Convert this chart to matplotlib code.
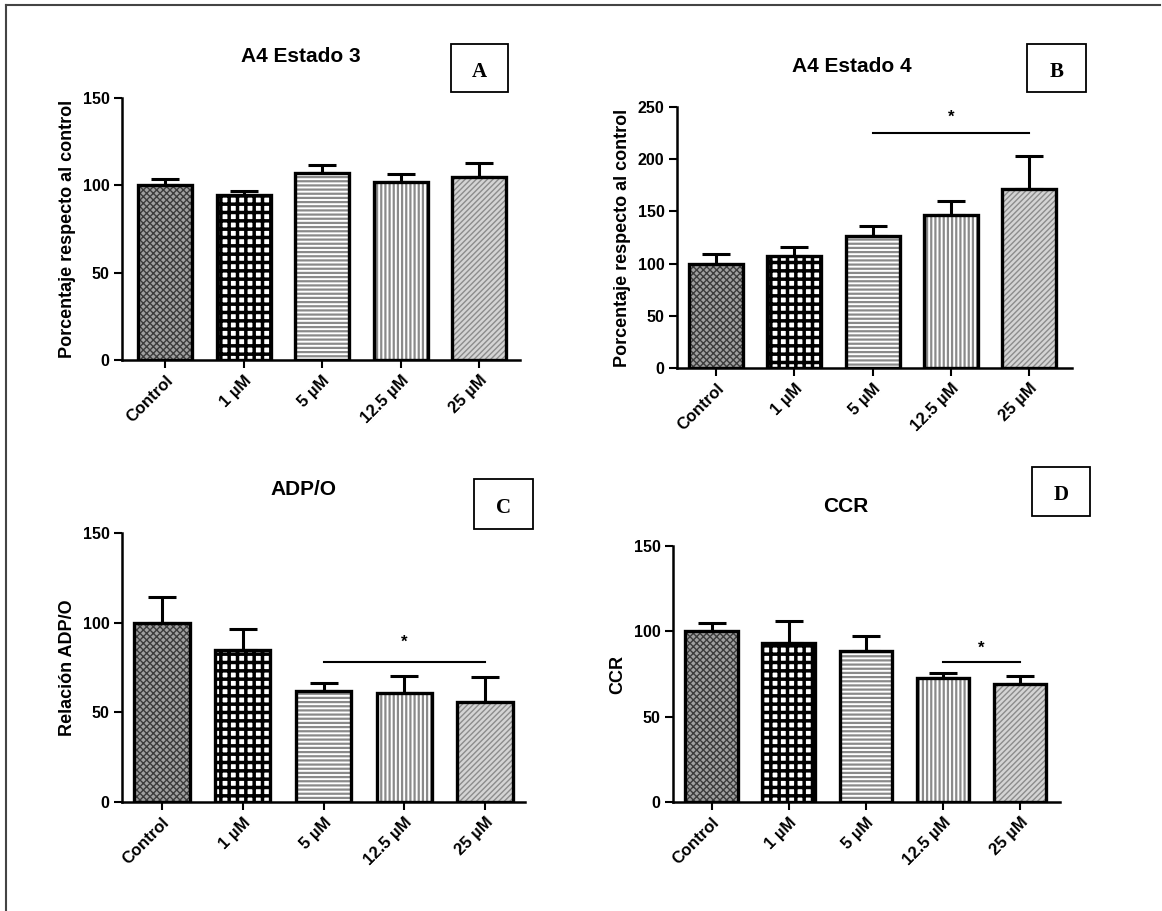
import matplotlib.pyplot as plt
from matplotlib.patches import Rectangle
from matplotlib.lines import Line2D

plt.rcParams['font.family'] = ['Liberation Sans', 'DejaVu Sans']
plt.rcParams['font.weight'] = 'bold'

# datos
categorias = ['Control', '1 µM', '5 µM', '12.5 µM', '25 µM']

estado3 = [100, 94.5, 107, 102, 105]
estado3_err = [3.5, 2.5, 4.5, 4.3, 7.5]

estado4 = [100, 107, 126, 147, 171]
estado4_err = [9.5, 8.6, 9.6, 13.4, 32.5]

adp_o = [100, 84.7, 62, 61, 56]
adp_o_err = [14.2, 11.8, 4.4, 9.2, 13.6]

ccr = [100, 93, 88.5, 72.7, 69.3]
ccr_err = [5, 12.9, 8.8, 3.1, 4.5]

# estilo de relleno de cada barra: (fondo, trama, color de trama, grosor)
tramas = [
    ('#a0a0a0', 'xxxxx', '#3c3c3c', 1.0),
    ('white', '++', 'black', 2.5),
    ('white', '----', '#8a8a8a', 1.6),
    ('white', '||||', '#8a8a8a', 1.6),
    ('#d4d4d4', '//////', '#8c8c8c', 1.0),
]

W, H = 1162, 911
fig = plt.figure(figsize=(W / 100, H / 100), dpi=100)


def caja(x0, x1, y_bot, y_top):
    # convierte pixeles a fraccion de figura
    return [x0 / W, 1 - y_bot / H, (x1 - x0) / W, (y_bot - y_top) / H]


def panel(pos, valores, errores, ylim, yticks, ylabel, xlim, ancho):
    ax = fig.add_axes(pos)
    x = list(range(len(categorias)))
    for i in x:
        fondo, trama, color, lw = tramas[i]
        with plt.rc_context({'hatch.linewidth': lw}):
            ax.bar(i, valores[i], width=ancho, color=fondo, hatch=trama,
                   edgecolor=color, linewidth=0, zorder=2)
    ax.bar(x, valores, width=ancho, fill=False, edgecolor='black',
           linewidth=2.4, zorder=3)
    ax.errorbar(x, valores, yerr=[[0] * len(x), errores], fmt='none',
                ecolor='black', elinewidth=2.2, capsize=10, capthick=2.2,
                zorder=1)
    ax.set_xlim(*xlim)
    ax.set_ylim(*ylim)
    ax.set_yticks(yticks)
    ax.set_xticks(x)
    ax.set_xticklabels(categorias, rotation=45, ha='right',
                       rotation_mode='anchor', fontsize=12, fontweight='bold')
    for lab in ax.get_yticklabels():
        lab.set_fontsize(11.5)
        lab.set_fontweight('bold')
    ax.set_ylabel(ylabel, fontsize=13, fontweight='bold', labelpad=5)
    for s in ['top', 'right']:
        ax.spines[s].set_visible(False)
    for s in ['left', 'bottom']:
        ax.spines[s].set_linewidth(1.8)
    ax.tick_params(width=1.5, length=6, pad=3)
    return ax


def significancia(ax, x0, x1, y, y_star):
    ax.plot([x0, x1], [y, y], color='black', linewidth=1.5, zorder=4)
    ax.text((x0 + x1) / 2, y_star, '*', ha='center', va='center',
            fontsize=12, fontweight='bold')


axA = panel(caja(122, 520, 360, 98), estado3, estado3_err, (0, 150),
            [0, 50, 100, 150], 'Porcentaje respecto al control',
            (-0.55, 4.52), 0.69)
axB = panel(caja(677, 1072, 368, 107), estado4, estado4_err, (0, 250),
            [0, 50, 100, 150, 200, 250], 'Porcentaje respecto al control',
            (-0.5, 4.55), 0.69)
axC = panel(caja(122, 525, 802, 533), adp_o, adp_o_err, (0, 150),
            [0, 50, 100, 150], 'Relación ADP/O', (-0.49, 4.49), 0.69)
axD = panel(caja(673, 1060, 802, 546), ccr, ccr_err, (0, 150),
            [0, 50, 100, 150], 'CCR', (-0.5, 4.52), 0.68)

significancia(axB, 2, 4, 225, 240)
significancia(axC, 2, 4, 78, 89)
significancia(axD, 3, 4, 82, 90)

# titulos
titulos = [('A4 Estado 3', 301, 57), ('A4 Estado 4', 852, 67),
           ('ADP/O', 303, 489), ('CCR', 846, 507)]
for t, px, py in titulos:
    fig.text(px / W, 1 - py / H, t, ha='center', va='center',
             fontsize=15, fontweight='bold')

# cajas con letras
letras = [('A', 451, 508, 44, 92), ('B', 1027, 1086, 44, 92),
          ('C', 474, 533, 479, 529), ('D', 1032, 1090, 467, 516)]
for letra, x0, x1, y0, y1 in letras:
    fig.patches.append(Rectangle((x0 / W, 1 - y1 / H), (x1 - x0) / W,
                                 (y1 - y0) / H, transform=fig.transFigure,
                                 fill=False, edgecolor='black', linewidth=1.3))
    fig.text((x0 + x1) / 2 / W, 1 - (y0 + y1) / 2 / H - 0.004, letra,
             ha='center', va='center', fontsize=15, fontweight='bold',
             family='Liberation Serif')

# marco exterior (izquierda y arriba)
fig.lines.append(Line2D([6 / W, 6 / W], [0, 1 - 5 / H],
                        transform=fig.transFigure, color='#444444', linewidth=1.5))
fig.lines.append(Line2D([6 / W, 1160 / W], [1 - 5 / H, 1 - 5 / H],
                        transform=fig.transFigure, color='#444444', linewidth=1.5))

fig.savefig('out.png', dpi=100)
